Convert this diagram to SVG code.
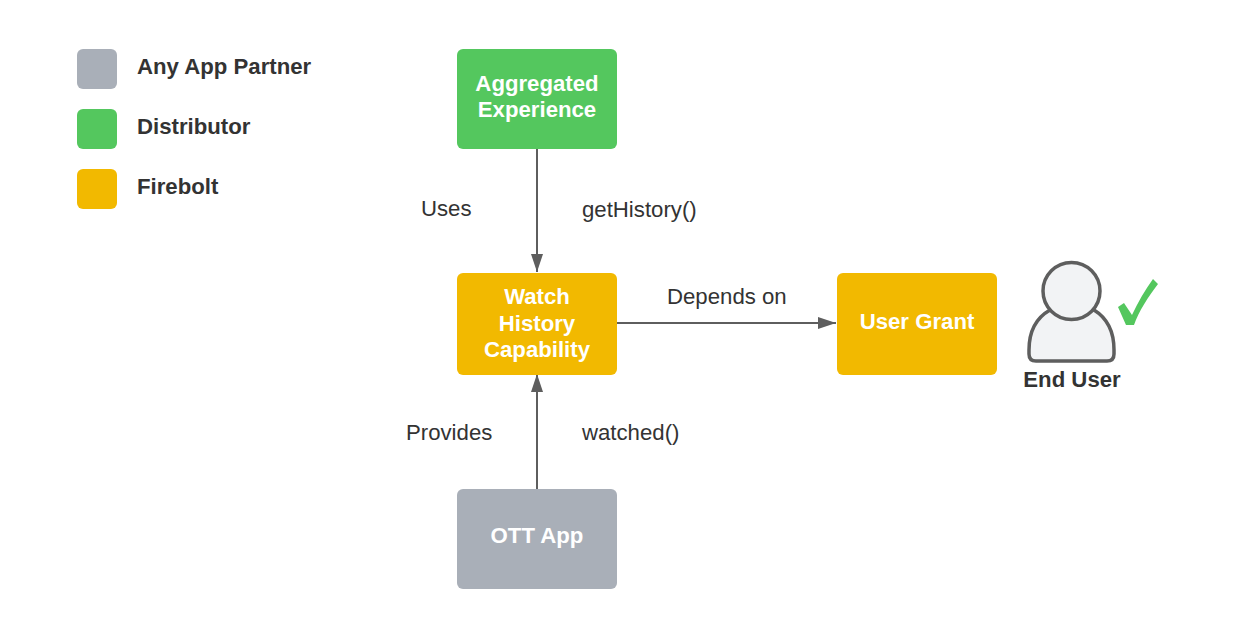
<svg xmlns="http://www.w3.org/2000/svg" width="1254" height="638" viewBox="0 0 1254 638">
<style>
text{font-family:"Liberation Sans",Arial,sans-serif;font-size:22.2px}
.w{fill:#fff;font-weight:700;text-anchor:middle}
.d{fill:#333;font-weight:700}
.l{fill:#333}
.c{fill:none;stroke:#5e5e5e;stroke-width:2}
.gray{fill:#a9afb8}.green{fill:#54c75e}.gold{fill:#f2b900}
.p{fill:#f2f3f5;stroke:#5e5e5e;stroke-width:3.5;stroke-linejoin:round}
</style>
<defs><marker id="a" markerUnits="userSpaceOnUse" markerWidth="20" markerHeight="14" refX="18" refY="7" orient="auto"><path d="M0 1L18 7L0 13Z" fill="#5e5e5e"/></marker></defs>
<rect width="1254" height="638" fill="#fff"/>
<g id="connectors">
<path class="c" d="M537 149V272" marker-end="url(#a)"/>
<path class="c" d="M617 323H836" marker-end="url(#a)"/>
<path class="c" d="M537 489V374" marker-end="url(#a)"/>
</g>
<g id="legend-partner"><rect class="gray" x="77" y="49" width="40" height="40" rx="6"/><text class="d" x="137" y="73.500">Any App Partner</text></g>
<g id="legend-distributor"><rect class="green" x="77" y="109" width="40" height="40" rx="6"/><text class="d" x="137" y="133.500">Distributor</text></g>
<g id="legend-firebolt"><rect class="gold" x="77" y="169" width="40" height="40" rx="6"/><text class="d" x="137" y="193.500">Firebolt</text></g>
<g id="aggregated"><rect class="green" x="457" y="49" width="160" height="100" rx="6"/><text class="w" x="537" y="91">Aggregated</text><text class="w" x="537" y="117">Experience</text></g>
<g id="watch"><rect class="gold" x="457" y="273" width="160" height="102" rx="6"/><text class="w" x="537" y="304">Watch</text><text class="w" x="537" y="330.500">History</text><text class="w" x="537" y="357">Capability</text></g>
<g id="grant"><rect class="gold" x="837" y="273" width="160" height="102" rx="6"/><text class="w" x="917" y="329">User Grant</text></g>
<g id="ott"><rect class="gray" x="457" y="489" width="160" height="100" rx="6"/><text class="w" x="537" y="543">OTT App</text></g>
<g id="labels">
<text class="l" x="421" y="216">Uses</text>
<text class="l" x="582" y="217">getHistory()</text>
<text class="l" x="667" y="304">Depends on</text>
<text class="l" x="406" y="439.500">Provides</text>
<text class="l" x="582" y="439.500">watched()</text>
</g>
<g id="end-user">
<path class="p" d="M1050 310C1036 318 1029 332 1029 350V354Q1029 361 1036 361H1107Q1114 361 1114 354V350C1114 332 1107 318 1094 310Z"/>
<circle class="p" cx="1071.500" cy="291" r="28.500"/>
<path d="M1118 307L1124 303L1132 315C1138 302 1145 290 1153 279L1158 284C1148 297 1139 311 1134 325L1126 325Z" fill="#54c75e"/>
<text class="d" x="1072" y="387" text-anchor="middle">End User</text>
</g>
</svg>
